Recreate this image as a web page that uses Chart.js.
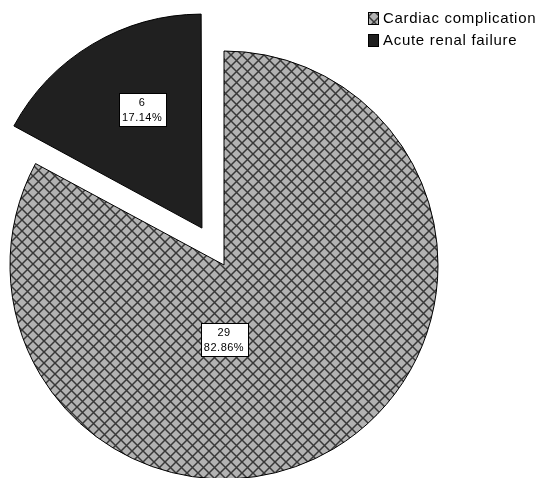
<!DOCTYPE html>
<html>
<head>
<meta charset="utf-8">
<script src="https://cdn.jsdelivr.net/npm/chart.js@4.4.1/dist/chart.umd.min.js"></script>
<style>
  html, body { margin: 0; padding: 0; background: #fff; }
  #wrap { width: 540px; height: 478px; }
</style>
</head>
<body>
<div id="wrap"><canvas id="complicationChart" width="540" height="478"></canvas></div>
<script>
var categories = ['Cardiac complication', 'Acute renal failure'];
var counts = [29, 6];
var percentLabels = ['82.86%', '17.14%'];
var explode = [0, 172];

function makeHatch() {
  var c = document.createElement('canvas');
  c.width = 11; c.height = 11;
  var g = c.getContext('2d');
  g.fillStyle = '#b2b2b2';
  g.fillRect(0, 0, 11, 11);
  g.strokeStyle = '#383838';
  g.lineWidth = 1.5;
  g.beginPath();
  g.moveTo(-1, -1); g.lineTo(12, 12);
  g.moveTo(12, -1); g.lineTo(-1, 12);
  g.stroke();
  return g.createPattern(c, 'repeat');
}

document.addEventListener('DOMContentLoaded', function() {
  var ctx = document.getElementById('complicationChart').getContext('2d');
  var hatch = makeHatch();
  var fills = [hatch, '#202020'];

  // chart.js grows an exploded narrow arc a little; keep it the same size as the rest
  var keepRadius = {
    id: 'keepRadius',
    afterDatasetsUpdate: function(chart) {
      chart.getDatasetMeta(0).data.forEach(function(arc) {
        var off = (arc.options.offset || 0) / 4;
        var circ = arc.endAngle - arc.startAngle;
        arc.outerRadius -= off * (1 - Math.sin(Math.min(Math.PI, circ)));
      });
    }
  };

  var sliceLabels = {
    id: 'sliceLabels',
    afterDatasetsDraw: function(chart) {
      var c = chart.ctx;
      var arcs = chart.getDatasetMeta(0).data;
      c.save();
      c.font = '11px "Liberation Sans", Arial, sans-serif';
      c.letterSpacing = '0.5px';
      c.textAlign = 'center';
      c.textBaseline = 'middle';
      arcs.forEach(function(arc, i) {
        var p = arc.getProps(['x', 'y', 'startAngle', 'endAngle', 'outerRadius']);
        var mid = (p.startAngle + p.endAngle) / 2;
        var half = (p.endAngle - p.startAngle) / 2;
        var shift = (arc.options.offset || 0) / 4;
        var cx = p.x + Math.cos(mid) * shift;
        var cy = p.y + Math.sin(mid) * shift;
        var ang, dist;
        if (half * 2 > Math.PI) { ang = Math.PI / 2; dist = 0.35 * p.outerRadius; }
        else { ang = mid + 0.07; dist = 2 * p.outerRadius * Math.sin(half) / (3 * half); }
        var lx = cx + Math.cos(ang) * dist;
        var ly = cy + Math.sin(ang) * dist;
        var l1 = String(counts[i]), l2 = percentLabels[i];
        var w = Math.round(Math.max(c.measureText(l1).width, c.measureText(l2).width) + 7);
        var h = 33;
        var bx = Math.round(lx - w / 2) + 0.5, by = Math.round(ly - h / 2) + 0.5;
        c.fillStyle = '#fff';
        c.fillRect(bx, by, w, h);
        c.strokeStyle = '#000';
        c.lineWidth = 1;
        c.strokeRect(bx, by, w, h);
        c.fillStyle = '#000';
        c.fillText(l1, lx, ly - 7);
        c.fillText(l2, lx, ly + 8);
      });
      c.restore();
    }
  };

  var sideLegend = {
    id: 'sideLegend',
    afterDraw: function(chart) {
      var c = chart.ctx;
      c.save();
      c.font = '15px "Liberation Sans", Arial, sans-serif';
      c.letterSpacing = '0.7px';
      c.textBaseline = 'middle';
      categories.forEach(function(name, i) {
        var y = 18 + i * 22;
        c.fillStyle = fills[i];
        c.fillRect(368, y - 6, 11, 13);
        c.strokeStyle = '#000';
        c.lineWidth = 1;
        c.strokeRect(368.5, y - 5.5, 10, 12);
        c.fillStyle = '#000';
        c.fillText(name, 383, y + 1);
      });
      c.restore();
    }
  };

  new Chart(ctx, {
    type: 'pie',
    data: {
      labels: categories,
      datasets: [{
        data: counts,
        backgroundColor: fills,
        borderColor: '#000',
        borderWidth: 1,
        offset: explode,
        clip: false
      }]
    },
    options: {
      responsive: false,
      animation: false,
      radius: 214,
      layout: { padding: { left: 0, right: 92, top: 52, bottom: 0 } },
      plugins: {
        legend: { display: false },
        tooltip: { enabled: false }
      }
    },
    plugins: [keepRadius, sliceLabels, sideLegend]
  });
});
</script>
</body>
</html>
